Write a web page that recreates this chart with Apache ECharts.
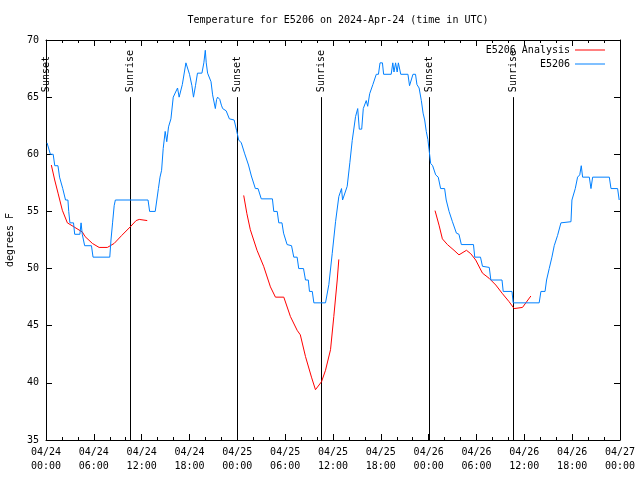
<!DOCTYPE html>
<html>
<head>
<meta charset="utf-8">
<script src="https://cdn.jsdelivr.net/npm/echarts@6/dist/echarts.min.js"></script>
<style>html,body{margin:0;padding:0;background:#fff}#c{width:640px;height:480px}</style>
</head>
<body>
<div id="c"></div>
<script>
// Hours since 2024-04-24 00:00 UTC
const xTickLabels = ['04/24\n00:00','04/24\n06:00','04/24\n12:00','04/24\n18:00','04/25\n00:00','04/25\n06:00','04/25\n12:00','04/25\n18:00','04/26\n00:00','04/26\n06:00','04/26\n12:00','04/26\n18:00','04/27\n00:00'];
const sunTimes = [0.0, 10.55, 24.0, 34.55, 48.0, 58.6];
const sunLabels = ['Sunset','Sunrise','Sunset','Sunrise','Sunset','Sunrise'];

const observed = [
[0.13,61],[0.55,60],[0.9,60],[1.1,59],[1.5,59],[1.7,58],[1.95,58],[2.1,57],[2.3,57],[2.45,56],[2.75,56],[2.85,55],[3.0,54],[3.45,54],[3.6,53],[4.25,53],[4.4,54],[4.55,53],[4.85,52],[5.7,52],[5.9,51],[8.0,51],[8.15,52.5],[8.35,54],[8.55,55.5],[8.7,56],[12.8,56],[13.0,55],[13.7,55],[13.9,56],[14.1,57],[14.3,58],[14.5,58.6],[14.7,60.5],[14.95,62],[15.15,61.1],[15.37,62.4],[15.67,63.1],[15.96,65],[16.1,65],[16.5,65.8],[16.7,65],[17.1,66.1],[17.3,66.1],[17.55,68],[17.76,68],[18.0,67],[18.3,66],[18.5,65],[18.75,66],[19.0,67.1],[19.56,67.1],[19.8,68],[19.98,69.1],[20.1,68],[20.27,67.1],[20.5,67],[20.7,66.35],[20.9,65.2],[21.24,64],[21.4,64.8],[21.53,65],[21.8,64.8],[22.0,64.3],[22.16,64],[22.6,63.8],[23.0,63.1],[23.6,63],[23.9,62.1],[24.17,61.25],[24.5,61],[24.9,60.1],[25.1,60],[25.4,59.06],
[25.76,58.1],[26.0,58],[26.26,57],[26.6,57],[27.0,56.1],[28.4,56.1],[28.57,55],[29.0,55],[29.2,54],[29.6,54],[29.8,53.1],[30.0,53],[30.24,52.1],[30.8,52],[31.08,51],[31.5,51],[31.7,50],[32.3,50],[32.55,49],[32.9,49],[33.05,48],[33.4,48],[33.6,47],[35.06,47],[35.48,48.6],[35.9,51.3],[36.32,54.1],[36.73,56.3],[37.07,57],[37.2,56],[37.36,56],[37.78,57.2],[38.12,59.3],[38.41,61.2],[38.83,63.3],[39.1,64],[39.3,62.2],[39.6,62.2],[39.8,64],[40.17,64.7],[40.35,64.2],[40.6,65.3],[41.0,66.1],[41.43,67],[41.7,67],[41.9,68],[42.2,68],[42.35,67],[43.3,67],[43.5,68],[43.65,67.2],[43.85,68],[44.05,67.2],[44.2,68],[44.4,68],[44.5,67],[45.4,67],[45.6,66],[45.85,66],[46.03,67],[46.35,67],[46.53,66.1],[46.8,65.8],[47.08,64.7],[47.3,63.6],[47.5,63],[47.7,62],[47.9,61.3],[48.05,60.4],[48.25,59.2],[48.5,59],[48.88,58.2],[49.2,58],[49.5,57],[50.0,57],[50.2,56],[50.56,55],[50.98,54.1],[51.2,54],[51.48,53.1],[51.8,53],[52.1,52.1],[53.62,52.1],[53.78,51],[54.5,51],[54.75,50.2],[55.6,50.1],[55.8,49],[57.2,49],[57.35,48],[58.45,48],[58.6,47],[61.86,47],[62.08,48],[62.6,48],[62.79,49],[63.12,50],[63.46,51],[63.75,52],[64.17,52.9],[64.59,54],[65.85,54.1],[65.97,56],[66.39,57],[66.68,58],[66.95,58.2],[67.14,59],[67.31,58],[68.15,58],[68.36,57],[68.57,58],[70.66,58],[70.87,57],[71.7,57],[71.9,56]
];

const analysisDay1 = [[0.67,59.06],[1.09,57.75],[1.51,56.6],[2.05,55.1],[2.68,54.0],[3.39,53.7],[4.56,53.2],[4.9,52.8],[5.82,52.2],[6.66,51.85],[7.7,51.85],[8.55,52.2],[9.5,52.9],[10.64,53.7],[11.3,54.2],[11.7,54.3],[12.7,54.2]];
const analysisDay2 = [[24.8,56.4],[25.2,54.8],[25.63,53.4],[26.47,51.6],[27.3,50.2],[28.15,48.4],[28.78,47.5],[29.83,47.5],[30.66,45.8],[31.5,44.6],[31.9,44.2],[32.55,42.3],[33.3,40.5],[33.8,39.4],[34.56,40.1],[35.06,41.1],[35.69,42.9],[36.1,45.8],[36.53,49.0],[36.73,50.8]];
const analysisDay3 = [[48.8,55.07],[49.3,53.8],[49.72,52.6],[50.35,52.1],[51.18,51.6],[51.8,51.2],[52.74,51.6],[53.28,51.3],[53.9,50.75],[54.75,49.6],[55.58,49.15],[56.42,48.56],[57.26,47.8],[58.09,47.1],[58.72,46.5],[59.77,46.6],[60.19,47.0],[60.82,47.6]];

const FONT = 'DejaVu Sans Mono';
const chart = echarts.init(document.getElementById('c'), null, {renderer:'canvas'});

const xBase = {
  type:'value', min:0, max:72, interval:6,
  axisLine:{show:true, onZero:false, lineStyle:{color:'#000', width:1}},
  axisTick:{show:true, inside:true, length:6, lineStyle:{color:'#000'}},
  minorTick:{show:true, splitNumber:3, length:3, lineStyle:{color:'#000'}},
  splitLine:{show:false}
};
const yBase = {
  type:'value', min:35, max:70, interval:5,
  axisLine:{show:true, onZero:false, lineStyle:{color:'#000', width:1}},
  axisTick:{show:true, inside:true, length:6, lineStyle:{color:'#000'}},
  splitLine:{show:false}
};

const redLine = {color:'#ff0000', width:1};
const legendText = {fontFamily:FONT, fontSize:10, color:'#000'};
const option = {
  animation:false,
  backgroundColor:'#fff',
  title:{text:'Temperature for E5206 on 2024-Apr-24 (time in UTC)', left:333, textAlign:'center', top:10,
    textStyle:{fontFamily:FONT, fontSize:10, fontWeight:'normal', color:'#000'}},
  grid:{left:46, right:20, top:40, bottom:40, containLabel:false, outerBoundsMode:'none'},
  legend:[
    {data:['E5206 Analysis'], orient:'vertical', right:30, top:40, align:'right', icon:'rect', itemWidth:30, itemHeight:1,
     textStyle:legendText},
    {data:['E5206'], orient:'vertical', right:30, top:54, align:'right', icon:'rect', itemWidth:30, itemHeight:1,
     textStyle:legendText}
  ],
  xAxis:[
    Object.assign({}, xBase, {position:'bottom',
      axisLabel:{show:true, margin:5, lineHeight:14, fontFamily:FONT, fontSize:10, color:'#000',
        formatter:(v)=>xTickLabels[Math.round(v/6)] || ''}}),
    Object.assign({}, xBase, {position:'top', axisLabel:{show:false}})
  ],
  yAxis:[
    Object.assign({}, yBase, {position:'left', name:'degrees F', nameLocation:'middle', nameRotate:90, nameGap:31,
      nameTextStyle:{fontFamily:FONT, fontSize:10, color:'#000'},
      axisLabel:{show:true, margin:7, fontFamily:FONT, fontSize:10, color:'#000'}}),
    Object.assign({}, yBase, {position:'right', axisLabel:{show:false}})
  ],
  series:[
    {type:'custom', name:'sun', clip:false, silent:true,
     data: sunTimes.map((t)=>[t]),
     renderItem:(params, api)=>{
       const t = api.value(0);
       const p0 = api.coord([t, 35]);
       const p1 = api.coord([t, 65]);
       const x = Math.round(p0[0]) + 0.5;
       return {type:'group', children:[
         {type:'line', shape:{x1:x, y1:p0[1], x2:x, y2:p1[1]}, style:{stroke:'#000', lineWidth:1}},
         {type:'text', x:x, y:p1[1]-5, rotation:Math.PI/2,
          style:{text:sunLabels[params.dataIndex], fill:'#000', font:'10px "DejaVu Sans Mono"', align:'left', verticalAlign:'middle'}}
       ]};
     }},
    {type:'line', name:'E5206 Analysis', data:analysisDay1, symbol:'none', lineStyle:redLine, itemStyle:{color:'#ff0000'}},
    {type:'line', name:'E5206 Analysis', data:analysisDay2, symbol:'none', lineStyle:redLine, itemStyle:{color:'#ff0000'}},
    {type:'line', name:'E5206 Analysis', data:analysisDay3, symbol:'none', lineStyle:redLine, itemStyle:{color:'#ff0000'}},
    {type:'line', name:'E5206', data:observed, symbol:'none', lineStyle:{color:'#0080ff', width:1}, itemStyle:{color:'#0080ff'}}
  ]
};
chart.setOption(option);
</script>
</body>
</html>
